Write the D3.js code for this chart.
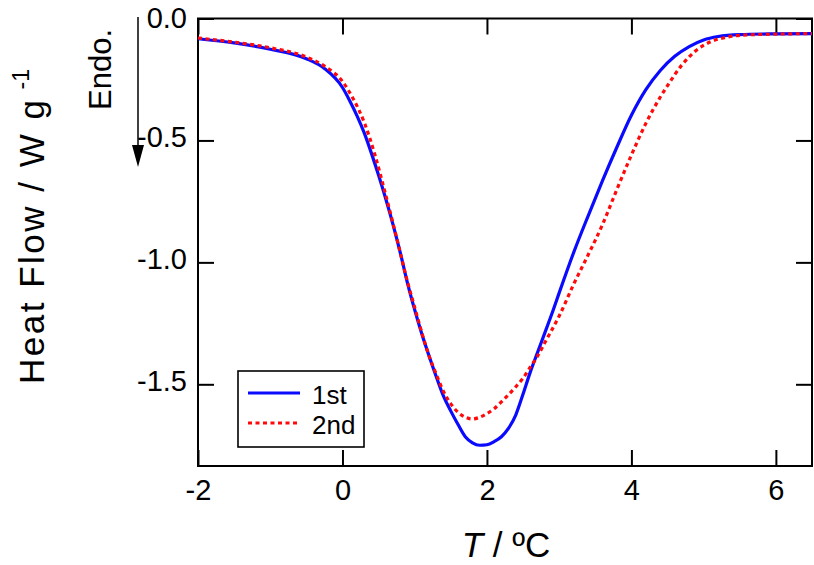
<!DOCTYPE html>
<html>
<head>
<meta charset="utf-8">
<script src="https://cdn.jsdelivr.net/npm/d3@7"></script>
<style>
  html, body { margin: 0; padding: 0; background: #fff; }
  svg { display: block; font-family: "Liberation Sans", Arial, Helvetica, sans-serif; }
</style>
</head>
<body>
<svg id="chart" width="814" height="565"></svg>
<script>
// ---- Data ----
const seriesNames = ["1st", "2nd"];

const temp1st = [-2.0, -1.5, -1.0, -0.5, -0.25, 0.0, 0.1, 0.2, 0.3, 0.4, 0.5, 0.6, 0.7, 0.8, 0.9, 1.0,
  1.1, 1.2, 1.3, 1.4, 1.5, 1.6, 1.7, 1.8, 1.9, 2.0, 2.1, 2.2, 2.3, 2.4, 2.5, 2.6, 2.7, 2.8, 2.9, 3.0,
  3.2, 3.4, 3.6, 3.8, 4.0, 4.2, 4.4, 4.6, 4.8, 5.0, 5.2, 5.5, 6.0, 6.5];
const heat1st = [-0.083, -0.100, -0.126, -0.165, -0.205, -0.283, -0.337, -0.398, -0.468, -0.552, -0.643, -0.74, -0.845, -0.96, -1.085, -1.195,
  -1.295, -1.385, -1.47, -1.55, -1.61, -1.665, -1.715, -1.74, -1.75, -1.748, -1.735, -1.715, -1.68, -1.625, -1.54, -1.45, -1.37, -1.29, -1.21, -1.125,
  -0.96, -0.81, -0.665, -0.527, -0.397, -0.292, -0.213, -0.155, -0.115, -0.088, -0.074, -0.066, -0.063, -0.062];

const temp2nd = [-2.0, -1.5, -1.0, -0.5, -0.25, 0.0, 0.15, 0.3, 0.45, 0.6, 0.75, 0.9, 1.0, 1.1, 1.2, 1.3,
  1.4, 1.5, 1.6, 1.7, 1.8, 1.9, 2.0, 2.1, 2.2, 2.3, 2.4, 2.5, 2.6, 2.7, 2.8, 3.0, 3.2, 3.4, 3.6, 3.8,
  4.0, 4.2, 4.4, 4.5, 4.7, 4.9, 5.1, 5.3, 5.5, 6.0, 6.5];
const heat2nd = [-0.080, -0.097, -0.120, -0.158, -0.195, -0.258, -0.33, -0.425, -0.56, -0.725, -0.90, -1.08, -1.185, -1.29, -1.385, -1.46,
  -1.53, -1.58, -1.615, -1.635, -1.642, -1.635, -1.62, -1.60, -1.572, -1.542, -1.51, -1.475, -1.43, -1.385, -1.33, -1.22, -1.09, -0.97, -0.845, -0.70,
  -0.56, -0.43, -0.322, -0.275, -0.19, -0.13, -0.095, -0.078, -0.069, -0.064, -0.062];

const xTicks = [-2, 0, 2, 4, 6];
const yTicks = [0, -0.5, -1.0, -1.5];
const xDomain = [-2, 6.5];
const yDomain = [-1.835, 0];

// ---- Layout ----
const svg = d3.select("#chart");
const pLeft = 198, pRight = 812, pTop = 18.5, pBottom = 466;
const x = d3.scaleLinear().domain(xDomain).range([pLeft, pRight]);
const y = d3.scaleLinear().domain(yDomain).range([pBottom, pTop]);

const tickLen = 16;
const tickFont = 29;
const hyphen = f => d => f(d).replace("\u2212", "-");

// Frame
svg.append("rect")
  .attr("x", pLeft).attr("y", pTop)
  .attr("width", pRight - pLeft).attr("height", pBottom - pTop)
  .attr("fill", "none").attr("stroke", "#000").attr("stroke-width", 2);

// Axes with inward ticks
const axB = d3.axisBottom(x).tickValues(xTicks).tickSize(-tickLen).tickPadding(13).tickFormat(hyphen(d3.format("d")));
const gB = svg.append("g").attr("transform", `translate(0,${pBottom})`).call(axB);
const axT = d3.axisTop(x).tickValues(xTicks).tickSize(-tickLen).tickFormat("");
const gT = svg.append("g").attr("transform", `translate(0,${pTop})`).call(axT);
const axL = d3.axisLeft(y).tickValues(yTicks).tickSize(-tickLen).tickPadding(11).tickFormat(hyphen(d3.format(".1f")));
const gL = svg.append("g").attr("transform", `translate(${pLeft},0)`).call(axL);
const axR = d3.axisRight(y).tickValues(yTicks).tickSize(-tickLen).tickFormat("");
const gR = svg.append("g").attr("transform", `translate(${pRight},0)`).call(axR);

[gB, gT, gL, gR].forEach(g => {
  g.select(".domain").remove();
  g.selectAll(".tick line").attr("stroke", "#000").attr("stroke-width", 2);
  g.selectAll("text").attr("fill", "#000").attr("font-size", tickFont)
    .attr("font-family", "'Liberation Sans', Arial, sans-serif");
});
gL.selectAll(".tick text").attr("dy", d => d === 0 ? "0.3em" : "0.2em");
gB.selectAll(".tick text").attr("dy", "0.71em");

// Lines
const line = d3.line().x(d => x(d[0])).y(d => y(d[1])).curve(d3.curveMonotoneX);
const data1 = temp1st.map((t, i) => [t, heat1st[i]]);
const data2 = temp2nd.map((t, i) => [t, heat2nd[i]]);

svg.append("path").datum(data1)
  .attr("d", line).attr("fill", "none")
  .attr("stroke", "#0a0aff").attr("stroke-width", 3.2);
svg.append("path").datum(data2)
  .attr("d", line).attr("fill", "none")
  .attr("stroke", "#ff0a0a").attr("stroke-width", 3.2)
  .attr("stroke-dasharray", "4,3.5");

// Legend
const lg = svg.append("g");
lg.append("rect").attr("x", 238).attr("y", 371).attr("width", 126).attr("height", 76)
  .attr("fill", "#fff").attr("stroke", "#000").attr("stroke-width", 1.6);
const legendItems = [
  { name: seriesNames[0], color: "#0a0aff", dash: null, yy: 393 },
  { name: seriesNames[1], color: "#ff0a0a", dash: "4,3.5", yy: 423 }
];
legendItems.forEach(it => {
  lg.append("line").attr("x1", 248).attr("x2", 300).attr("y1", it.yy).attr("y2", it.yy)
    .attr("stroke", it.color).attr("stroke-width", 3.2)
    .attr("stroke-dasharray", it.dash);
  lg.append("text").attr("x", 312).attr("y", it.yy + 4.5).attr("font-size", 26)
    .attr("dominant-baseline", "middle").attr("fill", "#000").text(it.name);
});

// Axis titles
svg.append("text").attr("x", 506).attr("y", 557)
  .attr("text-anchor", "middle").attr("font-size", 35).attr("fill", "#000")
  .html('<tspan font-style="italic">T</tspan> / ºC');

const yt = svg.append("text").attr("transform", "translate(44,384) rotate(-90)")
  .attr("text-anchor", "start").attr("font-size", 35).attr("fill", "#000");
yt.append("tspan").attr("textLength", 284).attr("lengthAdjust", "spacing").text("Heat Flow / W g");
yt.append("tspan").attr("font-size", 23).attr("dx", 8).attr("dy", -15).text("-1");

// Endo. arrow
svg.append("text").attr("transform", "translate(111,110) rotate(-90)")
  .attr("text-anchor", "start").attr("font-size", 31).attr("fill", "#000").text("Endo.");
svg.append("line").attr("x1", 138).attr("x2", 138).attr("y1", 17).attr("y2", 148)
  .attr("stroke", "#000").attr("stroke-width", 1.5);
svg.append("path").attr("d", "M132,145 L144,145 L138,167 Z").attr("fill", "#000");
</script>
</body>
</html>
